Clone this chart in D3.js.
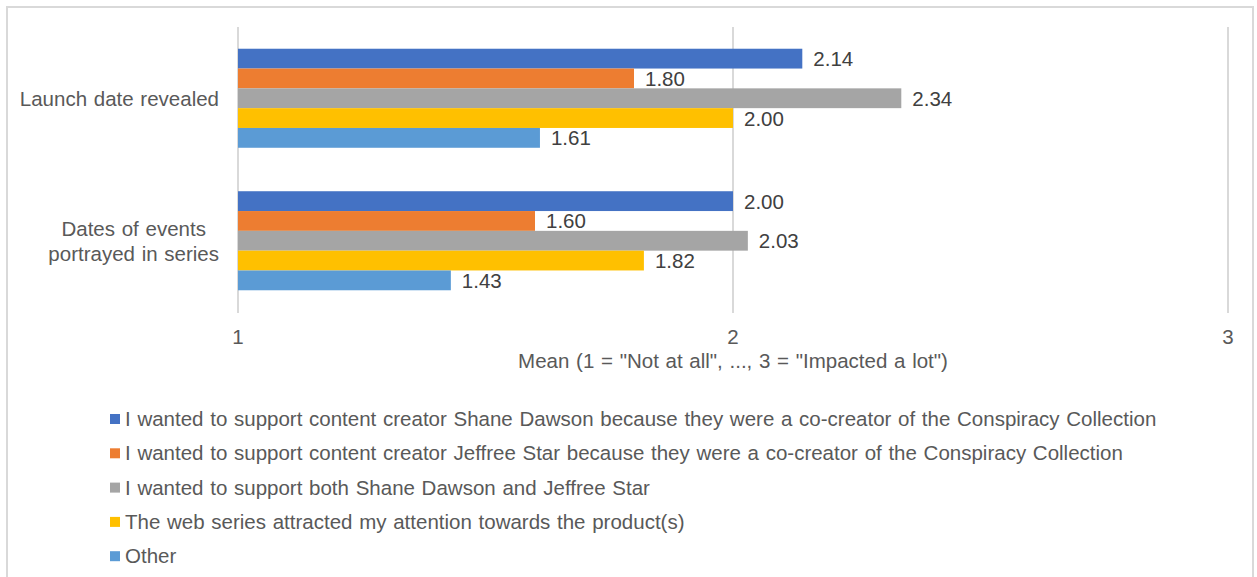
<!DOCTYPE html>
<html>
<head>
<meta charset="utf-8">
<script src="https://cdn.jsdelivr.net/npm/d3@7"></script>
<style>
  html, body { margin: 0; padding: 0; background: #fff; }
  svg { display: block; font-family: "Liberation Sans", Arial, sans-serif; word-spacing: 1px; }
</style>
</head>
<body>
<svg id="chart" width="1257" height="577"></svg>
<script>
// Categories (top to bottom) and one value array per series
const categories = ["Launch date revealed", "Dates of events portrayed in series"];
const categoryLines = [["Launch date revealed"], ["Dates of events", "portrayed in series"]];
const seriesNames = [
  "I wanted to support content creator Shane Dawson because they were a co-creator of the Conspiracy Collection",
  "I wanted to support content creator Jeffree Star because they were a co-creator of the Conspiracy Collection",
  "I wanted to support both Shane Dawson and Jeffree Star",
  "The web series attracted my attention towards the product(s)",
  "Other"
];
const shaneDawson   = [2.14, 2.00];
const jeffreeStar   = [1.80, 1.60];
const bothCreators  = [2.34, 2.03];
const webSeries     = [2.00, 1.82];
const other         = [1.61, 1.43];
const seriesValues = [shaneDawson, jeffreeStar, bothCreators, webSeries, other];
const seriesColors = ["#4472C4", "#ED7D31", "#A5A5A5", "#FFC000", "#5B9BD5"];
const xTicks = [1, 2, 3];
const xTitle = 'Mean (1 = "Not at all", ..., 3 = "Impacted a lot")';

const svg = d3.select("#chart");
const fontSize = 20.5;

// Outer chart frame
svg.append("rect")
  .attr("x", 7).attr("y", 7)
  .attr("width", 1246).attr("height", 600)
  .attr("fill", "#fff")
  .attr("stroke", "#d9d9d9").attr("stroke-width", 2);

const x = d3.scaleLinear().domain([1, 3]).range([238, 1228]);
const y = d3.scaleBand().domain(categories).range([27, 312])
  .paddingInner(0.305).paddingOuter(0.1525);
const ySub = d3.scaleBand().domain(d3.range(seriesNames.length)).range([0, y.bandwidth()]);

// Vertical gridlines
svg.append("g").selectAll("line").data(xTicks).join("line")
  .attr("x1", d => x(d)).attr("x2", d => x(d))
  .attr("y1", 27).attr("y2", 313)
  .attr("stroke", "#d9d9d9").attr("stroke-width", 2);

// Bars
const rows = [];
seriesValues.forEach((vals, s) => vals.forEach((v, c) => rows.push({ s, c, v })));

svg.append("g").selectAll("rect").data(rows).join("rect")
  .attr("x", x(1))
  .attr("y", d => y(categories[d.c]) + ySub(d.s))
  .attr("width", d => x(d.v) - x(1))
  .attr("height", ySub.bandwidth())
  .attr("fill", d => seriesColors[d.s]);

// Value labels
svg.append("g").selectAll("text").data(rows).join("text")
  .attr("x", d => x(d.v) + 11)
  .attr("y", d => y(categories[d.c]) + ySub(d.s) + ySub.bandwidth() / 2 + 7.5)
  .attr("font-size", fontSize)
  .attr("fill", "#404040")
  .text(d => d.v.toFixed(2));

// Category labels: block right-aligned, lines centred within it
const catG = svg.append("g");
categories.forEach((cat, i) => {
  const lines = categoryLines[i];
  const cy = y(cat) + y.bandwidth() / 2;
  const g = catG.append("g");
  const texts = lines.map((ln, j) => g.append("text")
    .attr("font-size", fontSize)
    .attr("fill", "#595959")
    .attr("text-anchor", "middle")
    .attr("y", cy + 7.5 + (j - (lines.length - 1) / 2) * 25)
    .text(ln));
  const maxW = d3.max(texts, t => t.node().getComputedTextLength());
  texts.forEach(t => t.attr("x", 219 - maxW / 2));
});

// X tick labels
svg.append("g").selectAll("text").data(xTicks).join("text")
  .attr("x", d => x(d))
  .attr("y", 344)
  .attr("text-anchor", "middle")
  .attr("font-size", fontSize)
  .attr("fill", "#595959")
  .text(d => d);

// X axis title
svg.append("text")
  .attr("x", x(2))
  .attr("y", 368)
  .attr("text-anchor", "middle")
  .attr("font-size", fontSize)
  .attr("fill", "#595959")
  .text(xTitle);

// Legend
const legend = svg.append("g").selectAll("g").data(seriesNames).join("g")
  .attr("transform", (d, i) => `translate(110, ${426 + i * 34.3})`);
legend.append("rect")
  .attr("x", 0).attr("y", -12)
  .attr("width", 10).attr("height", 10)
  .attr("fill", (d, i) => seriesColors[i]);
legend.append("text")
  .attr("x", 15).attr("y", 0)
  .attr("font-size", fontSize)
  .attr("fill", "#595959")
  .text(d => d);
</script>
</body>
</html>
